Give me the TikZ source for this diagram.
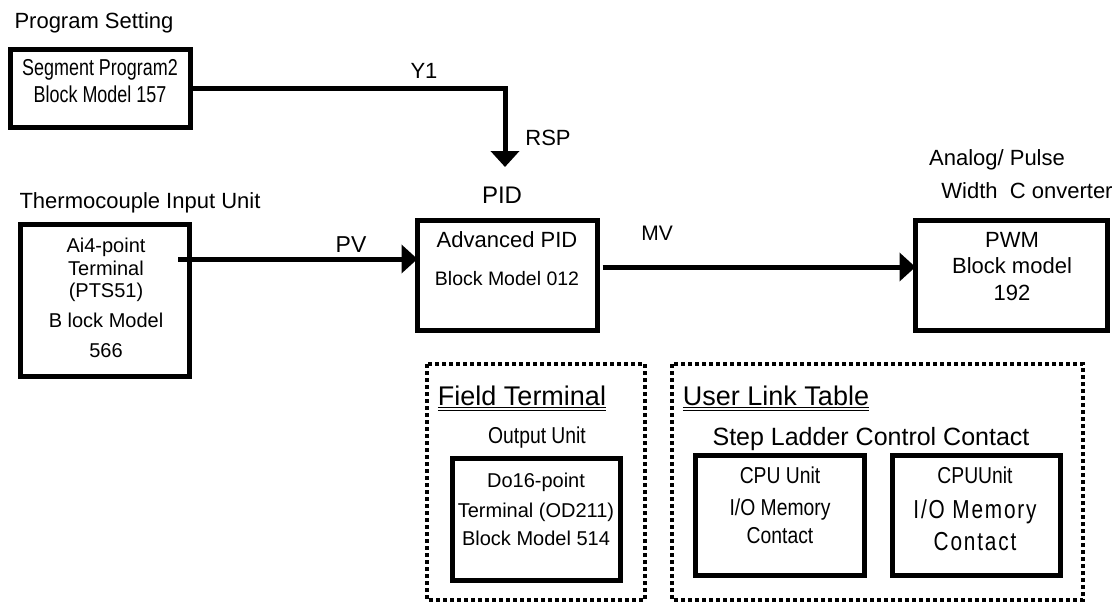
\documentclass[tikz,border=0pt]{standalone}
\usepackage{fontspec}
\setmainfont{Liberation Sans}
\newfontfamily\narrowfont[FakeStretch=0.84]{Liberation Sans}
\newfontfamily\tightfont[FakeStretch=0.78]{Liberation Sans}
\newfontfamily\spacedfont[FakeStretch=0.8,LetterSpace=7]{Liberation Sans}
\usetikzlibrary{arrows.meta}
\newcommand\fsz[1]{\fontsize{#1}{#1}\selectfont}

\begin{document}
\begin{tikzpicture}[x=1pt,y=-1pt,
  blk/.style={draw, line width=5pt, inner sep=0pt, outer sep=0pt},
  txt/.style={inner sep=0pt, anchor=base, font=\fsz{21}},
  wire/.style={line width=5pt},
  arr/.style={wire, -{Triangle[length=16pt,width=28pt]}},
  grp/.style={draw, line width=4pt, dash pattern=on 4pt off 3pt},
  uline/.style={line width=1.4pt},
]
\useasboundingbox (0,0) rectangle (1116,603);

% ---- blocks ----
\node[blk, minimum width=180pt, minimum height=78pt] (seg) at (100.5,88) {};
\node[blk, minimum width=169pt, minimum height=152pt] (ai) at (105,300.5) {};
\node[blk, minimum width=180pt, minimum height=110pt] (pid) at (507.5,275.5) {};
\node[blk, minimum width=192pt, minimum height=110pt] (pwm) at (1011.5,275.5) {};
\node[blk, minimum width=168pt, minimum height=122pt] (do) at (536.5,519.5) {};
\node[blk, minimum width=169pt, minimum height=120pt] (cpua) at (780,515.5) {};
\node[blk, minimum width=168pt, minimum height=120pt] (cpub) at (976.5,515.5) {};

% ---- dotted groups ----
\draw[grp] (427,364) rectangle (645,600);
\draw[grp] (672,364) rectangle (1083,600);

% ---- connectors ----
\coordinate (rspend) at (505,167);
\coordinate (pvs) at (178,259);
\coordinate (mvs) at (602.5,267);
\draw[arr] (seg.east) -| (rspend);
\draw[arr] (pvs) -- (pvs -| pid.west);
\draw[arr] (mvs) -- (mvs -| pwm.west);

% ---- labels ----
\node[txt, font=\fsz{22}] (tps) at (94,28) {Program Setting};
\node[txt, font=\tightfont\fsz{23}] (tseg1) at (100,75) {Segment Program2};
\node[txt, font=\tightfont\fsz{23}] (tseg2) at (100,102) {Block Model 157};
\node[txt, font=\fsz{22}] (ty1) at (424,78) {Y1};
\node[txt, font=\fsz{22}] (trsp) at (548,145) {RSP};

\node[txt, font=\fsz{22}] (ttc) at (140,208) {Thermocouple Input Unit};
\node[txt, font=\fsz{20}] (tai1) at (106,252) {Ai4-point};
\node[txt, font=\fsz{20}] (tai2) at (106,275) {Terminal};
\node[txt, font=\fsz{20}] (tai3) at (106,297) {(PTS51)};
\node[txt, font=\fsz{20}] (tai4) at (106,327) {B lock Model};
\node[txt, font=\fsz{20}] (tai5) at (106,357) {566};
\node[txt, font=\fsz{23}] (tpv) at (351,252) {PV};

\node[txt, font=\fsz{24}] (tpid) at (502,203) {PID};
\node[txt, font=\fsz{22}] (tpid1) at (507,247) {Advanced PID};
\node[txt, font=\fsz{19.5}] (tpid2) at (507,285) {Block Model 012};
\node[txt, font=\fsz{21}] (tmv) at (657,240) {MV};

\node[txt, font=\fsz{22}] (tan1) at (997,165) {Analog/ Pulse};
\node[txt, font=\fsz{22}] (tan2) at (1027,198) {Width\ \ C onverter};
\node[txt, font=\fsz{22}] (tpwm1) at (1012,247) {PWM};
\node[txt, font=\fsz{22}] (tpwm2) at (1012,273) {Block model};
\node[txt, font=\fsz{22}] (tpwm3) at (1012,300) {192};

\node[txt, font=\fsz{27}] (tft) at (522,405) {Field Terminal};
\draw[uline] ([yshift=-2.5pt]tft.base west) -- ([yshift=-2.5pt]tft.base east);
\draw[uline] ([yshift=-5.5pt]tft.base west) -- ([yshift=-5.5pt]tft.base east);
\node[txt, font=\narrowfont\fsz{23}] (tou) at (537,443) {Output Unit};
\node[txt, font=\fsz{20}] (tdo1) at (536,487) {Do16-point};
\node[txt, font=\fsz{20}] (tdo2) at (536,517) {Terminal (OD211)};
\node[txt, font=\fsz{20}] (tdo3) at (536,545) {Block Model 514};

\node[txt, font=\fsz{27}] (tul) at (776,405) {User Link Table};
\draw[uline] ([yshift=-2.5pt]tul.base west) -- ([yshift=-2.5pt]tul.base east);
\draw[uline] ([yshift=-5.5pt]tul.base west) -- ([yshift=-5.5pt]tul.base east);
\node[txt, font=\fsz{25}] (tsl) at (871,445) {Step Ladder Control Contact};

\node[txt, font=\narrowfont\fsz{23}] (tca1) at (780,483) {CPU Unit};
\node[txt, font=\narrowfont\fsz{23}] (tca2) at (780,515) {I/O Memory};
\node[txt, font=\narrowfont\fsz{23}] (tca3) at (780,543) {Contact};

\node[txt, font=\narrowfont\fsz{23}] (tcb1) at (975,483) {CPUUnit};
\node[txt, font=\spacedfont\fsz{26}] (tcb2) at (975,518) {I/O Memory};
\node[txt, font=\spacedfont\fsz{26}] (tcb3) at (975,550) {Contact};
\end{tikzpicture}
\end{document}
